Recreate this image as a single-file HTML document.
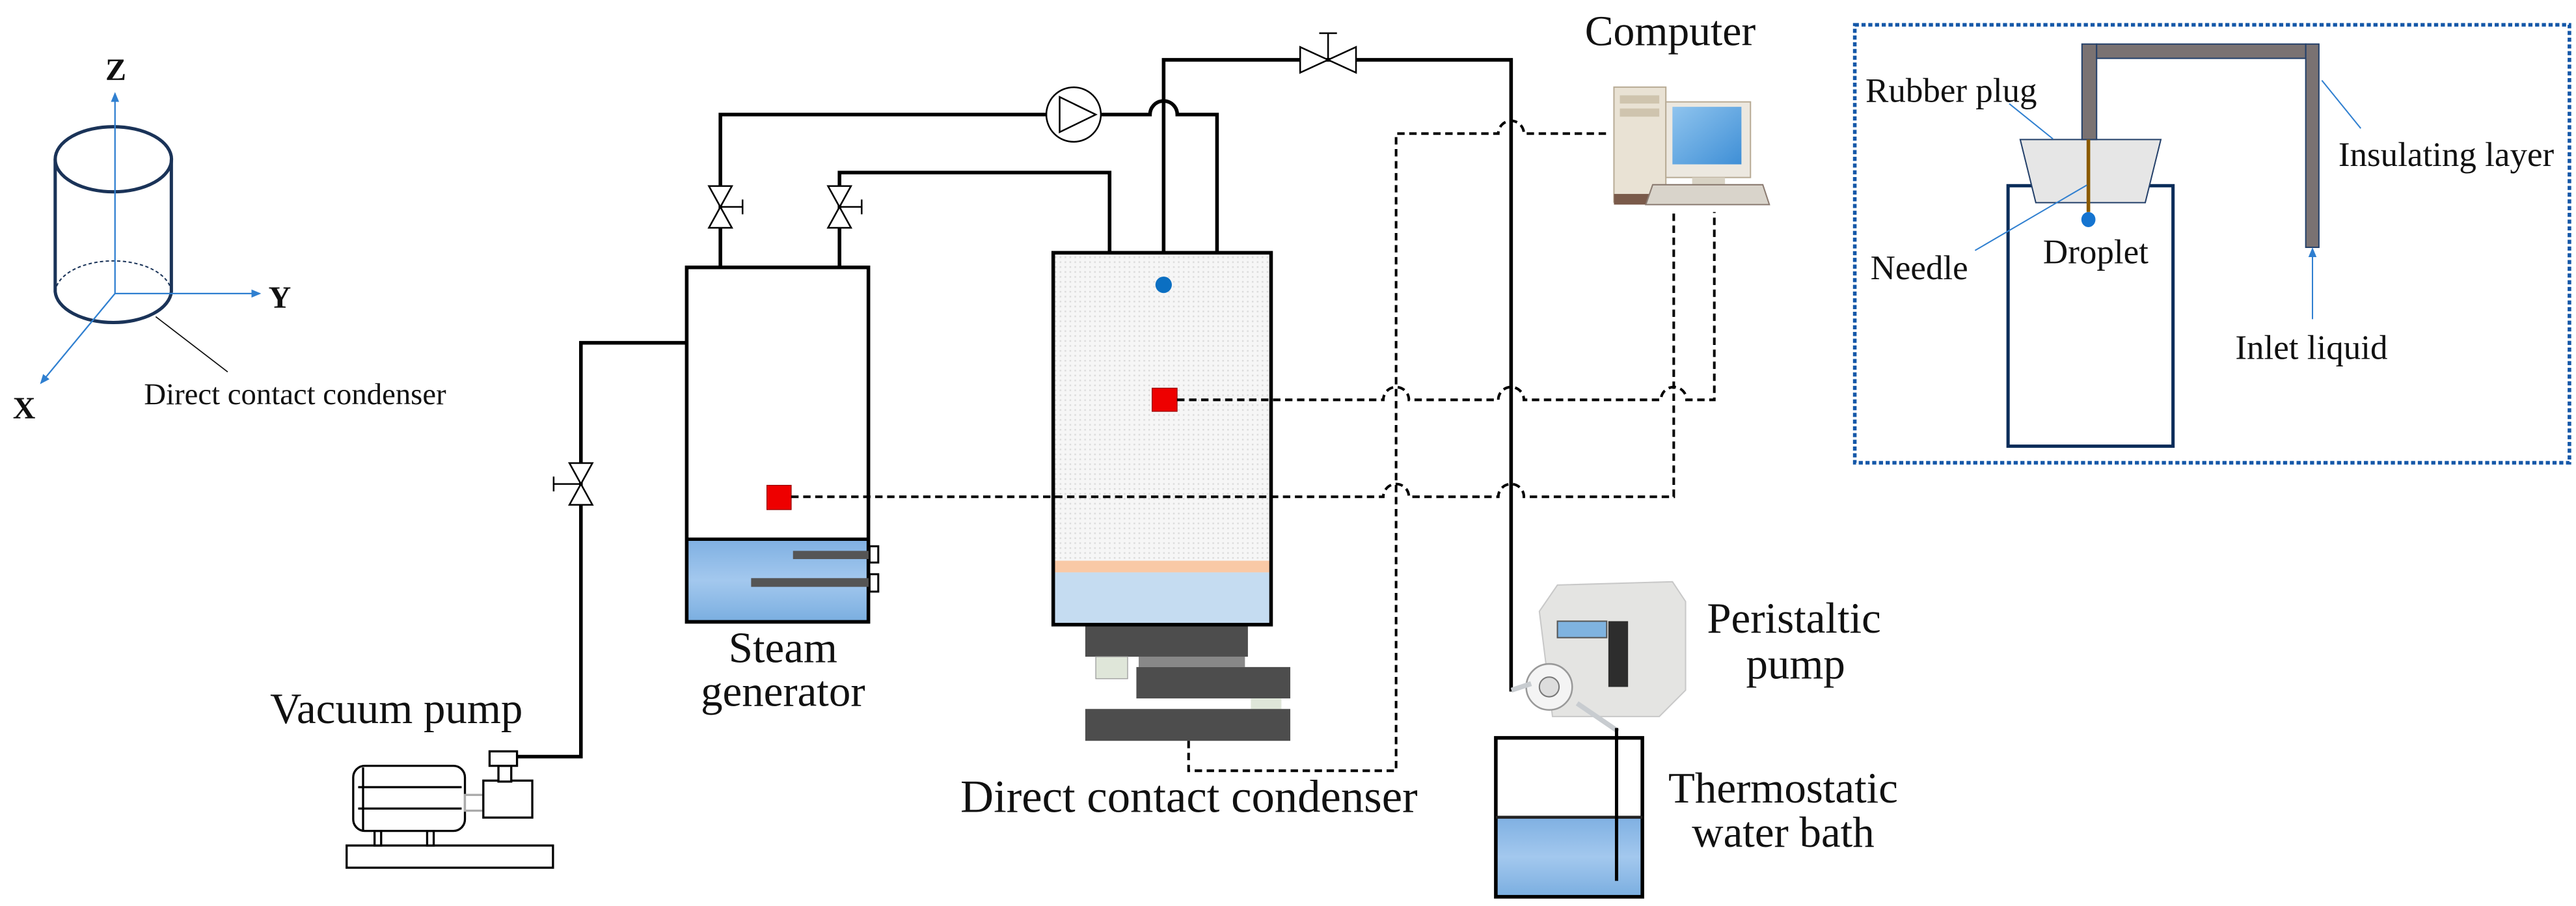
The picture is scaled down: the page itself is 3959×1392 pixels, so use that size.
<!DOCTYPE html>
<html><head><meta charset="utf-8"><style>
html,body{margin:0;padding:0;background:#fff;}
svg{display:block;}
text{font-family:"Liberation Serif",serif;fill:#111;}
</style></head><body>
<svg width="3959" height="1392" viewBox="0 0 1568 551.3" xmlns="http://www.w3.org/2000/svg">
<defs>
<linearGradient id="wat" x1="0" y1="0" x2="0" y2="1"><stop offset="0" stop-color="#7fb0e2"/><stop offset="0.5" stop-color="#a3c8ee"/><stop offset="1" stop-color="#7aaee0"/></linearGradient>
<linearGradient id="scr" x1="0" y1="0" x2="1" y2="1"><stop offset="0" stop-color="#8fc4ee"/><stop offset="1" stop-color="#3f8fd6"/></linearGradient>
<pattern id="dots" width="3" height="3" patternUnits="userSpaceOnUse"><rect width="3" height="3" fill="#f6f6f6"/><rect width="1" height="1" fill="#dcdcdc"/></pattern>
<marker id="ab" markerWidth="6" markerHeight="6" refX="5" refY="3" orient="auto" markerUnits="userSpaceOnUse"><path d="M0,0.5 L6,3 L0,5.5z" fill="#2f7fd0"/></marker>
</defs>

<!-- Axis inset -->
<g fill="none">
<path d="M33.6,96.9 V177.5 A35.4,19.8 0 0 0 104.3,177.5 V96.9" stroke="#1a3358" stroke-width="2"/>
<ellipse cx="69" cy="96.9" rx="35.4" ry="19.8" stroke="#1a3358" stroke-width="2"/>
<path d="M33.6,177.5 A35.4,19.8 0 0 1 104.3,177.5" stroke="#1a3358" stroke-width="0.8" stroke-dasharray="2 1.5"/>
<line x1="70" y1="178.6" x2="70" y2="57" stroke="#2f7fd0" stroke-width="0.9" marker-end="url(#ab)"/>
<line x1="70" y1="178.6" x2="158" y2="178.6" stroke="#2f7fd0" stroke-width="0.9" marker-end="url(#ab)"/>
<line x1="70" y1="178.6" x2="25" y2="233" stroke="#2f7fd0" stroke-width="0.9" marker-end="url(#ab)"/>
<line x1="94.8" y1="192.7" x2="138.6" y2="226.3" stroke="#111" stroke-width="0.7"/>
</g>
<text x="70.5" y="48.8" font-size="19" font-weight="bold" text-anchor="middle">Z</text>
<text x="163.4" y="187.4" font-size="19" font-weight="bold">Y</text>
<text x="7.8" y="254.6" font-size="19" font-weight="bold">X</text>
<text x="87.7" y="246" font-size="18.5">Direct contact condenser</text>

<!-- Solid pipes -->
<g fill="none" stroke="#000" stroke-width="2.2">
<path d="M438.5,162.7 V69.7 H637"/>
<path d="M670.1,69.7 H700 a8.3,8.3 0 0 1 16.6,0 H740.8 V153.8"/>
<path d="M511,162.7 V105 H675.4 V153.8"/>
<path d="M708.3,173 V36.4 H919.8 V420.8"/>
<path d="M418,208.6 H353.6 V460.4 H314.7"/>
</g>
<!-- Valves -->
<g fill="#fff" stroke="#000" stroke-width="1">
<path d="M431.5,113.2 H445.5 L431.5,138.6 H445.5 Z"/>
<line x1="438.5" y1="125.9" x2="452" y2="125.9"/><line x1="452" y1="121.4" x2="452" y2="130.4"/>
<path d="M504,113.2 H518 L504,138.6 H518 Z"/>
<line x1="511" y1="125.9" x2="524.5" y2="125.9"/><line x1="524.5" y1="121.4" x2="524.5" y2="130.4"/>
<path d="M346.6,281.8 H360.6 L346.6,307.2 H360.6 Z"/>
<line x1="353.6" y1="294.5" x2="337" y2="294.5"/><line x1="337" y1="290" x2="337" y2="299"/>
<path d="M791.4,28.6 V44.2 L825.4,28.6 V44.2 Z"/>
<line x1="808.4" y1="36.4" x2="808.4" y2="20.2"/><line x1="803" y1="20.2" x2="813.8" y2="20.2"/>
<circle cx="653.5" cy="69.7" r="16.6"/>
<path d="M645,59 L667,69.7 L645,80.4 Z" fill="none"/>
</g>

<!-- Steam generator -->
<rect x="418" y="328.1" width="110.6" height="50.3" fill="url(#wat)"/>
<rect x="418" y="162.7" width="110.6" height="215.7" fill="none" stroke="#000" stroke-width="2.2"/>
<line x1="418" y1="328.1" x2="528.6" y2="328.1" stroke="#000" stroke-width="2"/>
<rect x="482.7" y="335.2" width="47" height="5" fill="#555"/>
<rect x="457.2" y="351.8" width="72.5" height="5.3" fill="#555"/>
<rect x="529.3" y="332.4" width="5.3" height="9.9" fill="#fff" stroke="#000" stroke-width="1.2"/>
<rect x="529.3" y="349.4" width="5.3" height="10.6" fill="#fff" stroke="#000" stroke-width="1.2"/>
<text x="476.6" y="403" font-size="26.5" text-anchor="middle">Steam</text>
<text x="476.6" y="429.6" font-size="26.5" text-anchor="middle">generator</text>

<!-- Condenser -->
<rect x="641.1" y="153.8" width="132.6" height="187.4" fill="url(#dots)"/>
<rect x="641.1" y="341.2" width="132.6" height="7.1" fill="#f9c9a6"/>
<rect x="641.1" y="348.3" width="132.6" height="31.8" fill="#c5dcf1"/>
<rect x="641.1" y="153.8" width="132.6" height="226.3" fill="none" stroke="#000" stroke-width="2.2"/>
<rect x="660.6" y="381.2" width="99" height="18.4" fill="#4d4d4d"/>
<rect x="667" y="399.6" width="19.4" height="13.4" fill="#dfe6d9" stroke="#999" stroke-width="0.5"/>
<rect x="693.1" y="399.6" width="64.7" height="6.3" fill="#888"/>
<rect x="691.7" y="405.9" width="93.7" height="19.1" fill="#4d4d4d"/>
<rect x="761.4" y="425" width="18.6" height="6.4" fill="#dfe6d9"/>
<rect x="660.6" y="431.4" width="124.8" height="19.4" fill="#4d4d4d"/>
<circle cx="708.3" cy="173.3" r="5" fill="#0b6fc2"/>
<rect x="701.3" y="236.2" width="15.2" height="14.1" fill="#e00" stroke="#900" stroke-width="0.5"/>
<rect x="466.8" y="295.3" width="14.8" height="14.8" fill="#e00" stroke="#900" stroke-width="0.5"/>
<text x="584.6" y="494" font-size="28">Direct contact condenser</text>

<!-- Dashed signal lines -->
<g fill="none" stroke="#000" stroke-width="1.6" stroke-dasharray="4.5 2.8">
<path d="M716.5,243.3 H842 a7.8,7.8 0 0 1 15.6,0 H912 a7.8,7.8 0 0 1 15.6,0 H1011 a7.8,7.8 0 0 1 15.6,0 H1043.5 V129"/>
<path d="M481.6,302.3 H842 a7.8,7.8 0 0 1 15.6,0 H912 a7.8,7.8 0 0 1 15.6,0 H1018.8 V129"/>
<path d="M723.5,450.8 V469 H849.8 V81.3 H912 a7.8,7.8 0 0 1 15.6,0 H978.8"/>
</g>

<!-- Computer -->
<rect x="982.4" y="53" width="31.6" height="70" fill="#e9e2d4" stroke="#b8ab95" stroke-width="0.8"/>
<rect x="986" y="58" width="24" height="5" fill="#cfc4ae"/>
<rect x="986" y="66" width="24" height="5" fill="#cfc4ae"/>
<rect x="982.4" y="118" width="31.6" height="6.5" fill="#7a5a4a"/>
<rect x="1014" y="62" width="51.5" height="46" fill="#ece8e0" stroke="#b8ab95" stroke-width="0.8"/>
<rect x="1018" y="65" width="42" height="35" fill="url(#scr)"/>
<rect x="1030" y="108" width="20" height="4" fill="#d8d2c4"/>
<path d="M1001.8,124.5 L1006,112.4 H1073 L1077,124.5 Z" fill="#d9d4cb" stroke="#8a7a70" stroke-width="0.8"/>
<text x="964.7" y="27.6" font-size="26">Computer</text>

<!-- Peristaltic pump -->
<path d="M937,372 L948,356 L1018,354 L1026,366 V420 L1010,436 H945 Z" fill="#e4e4e2" stroke="#c8c8c8" stroke-width="0.8"/>
<rect x="948" y="378" width="30" height="10" fill="#7fb3e0" stroke="#555" stroke-width="0.8"/>
<rect x="979" y="378" width="12" height="40" fill="#2d2d2d"/>
<circle cx="943" cy="418" r="14" fill="#f4f4f4" stroke="#999" stroke-width="1"/>
<circle cx="943" cy="418" r="6" fill="#ddd" stroke="#777" stroke-width="0.8"/>
<path d="M920,420 L932,416 M960,428 L985,445" stroke="#c8ccd0" stroke-width="3"/>
<text x="1039" y="385" font-size="26.5">Peristaltic</text>
<text x="1093" y="412.8" font-size="26.5" text-anchor="middle">pump</text>

<!-- Water bath -->
<rect x="910.5" y="497.3" width="89.2" height="48.4" fill="url(#wat)"/>
<rect x="910.5" y="449" width="89.2" height="96.7" fill="none" stroke="#000" stroke-width="2.2"/>
<line x1="910.5" y1="497.3" x2="999.7" y2="497.3" stroke="#222" stroke-width="1.8"/>
<line x1="984" y1="443" x2="984" y2="536" stroke="#000" stroke-width="2"/>
<text x="1085.4" y="488.3" font-size="26.5" text-anchor="middle">Thermostatic</text>
<text x="1085.4" y="515.3" font-size="26.5" text-anchor="middle">water bath</text>

<!-- Vacuum pump -->
<g stroke="#000" stroke-width="1.3" fill="#fff">
<rect x="211" y="514.5" width="125.6" height="13.5"/>
<rect x="228" y="505.6" width="4" height="8.9"/>
<rect x="260" y="505.6" width="4" height="8.9"/>
<rect x="215" y="466" width="68" height="39.6" rx="7"/>
<line x1="218" y1="479" x2="281" y2="479"/><line x1="218" y1="492" x2="281" y2="492"/>
<line x1="221" y1="467" x2="221" y2="505"/>
<rect x="283" y="483.7" width="11.2" height="9.6" stroke="#aaa"/>
<rect x="294.2" y="475" width="29.8" height="22.5"/>
<rect x="303.4" y="466" width="7.8" height="9.6"/>
<rect x="298" y="457.2" width="16.7" height="8.8"/>
</g>
<text x="164.4" y="440" font-size="26.5">Vacuum pump</text>

<!-- Detail inset -->
<rect x="1129" y="15.1" width="435" height="266.5" fill="none" stroke="#1457a8" stroke-width="2.2" stroke-dasharray="2.5 1.6"/>
<rect x="1222.3" y="113" width="100.4" height="158.5" fill="#fff" stroke="#0b2d5a" stroke-width="2"/>
<path d="M1229.7,84.9 H1315.3 L1305.8,123.3 H1239.2 Z" fill="#e6e6e6" stroke="#24406a" stroke-width="0.8"/>
<g fill="#7a7272" stroke="#24406a" stroke-width="0.8">
<rect x="1267.3" y="26.8" width="8.9" height="58.1"/>
<rect x="1276.2" y="26.8" width="127.3" height="8.7"/>
<rect x="1403.5" y="26.8" width="8" height="123.7"/>
</g>
<line x1="1271.2" y1="84.9" x2="1271.2" y2="129" stroke="#8b5a00" stroke-width="2.2"/>
<ellipse cx="1271.2" cy="133.6" rx="4.3" ry="4.6" fill="#1574d0"/>
<g stroke="#2f7fd0" stroke-width="0.8" fill="none">
<line x1="1223" y1="63.1" x2="1249.6" y2="84.5"/>
<line x1="1202.2" y1="152.4" x2="1270.3" y2="112.6"/>
<line x1="1413.3" y1="48.9" x2="1437" y2="78.1"/>
<line x1="1407.6" y1="194.2" x2="1407.6" y2="151.5" marker-end="url(#ab)"/>
</g>
<text x="1135.5" y="62" font-size="21">Rubber plug</text>
<text x="1423.4" y="101" font-size="21">Insulating layer</text>
<text x="1138.5" y="170" font-size="21">Needle</text>
<text x="1243.6" y="160.2" font-size="21">Droplet</text>
<text x="1360.6" y="218.5" font-size="21">Inlet liquid</text>
</svg>
</body></html>
